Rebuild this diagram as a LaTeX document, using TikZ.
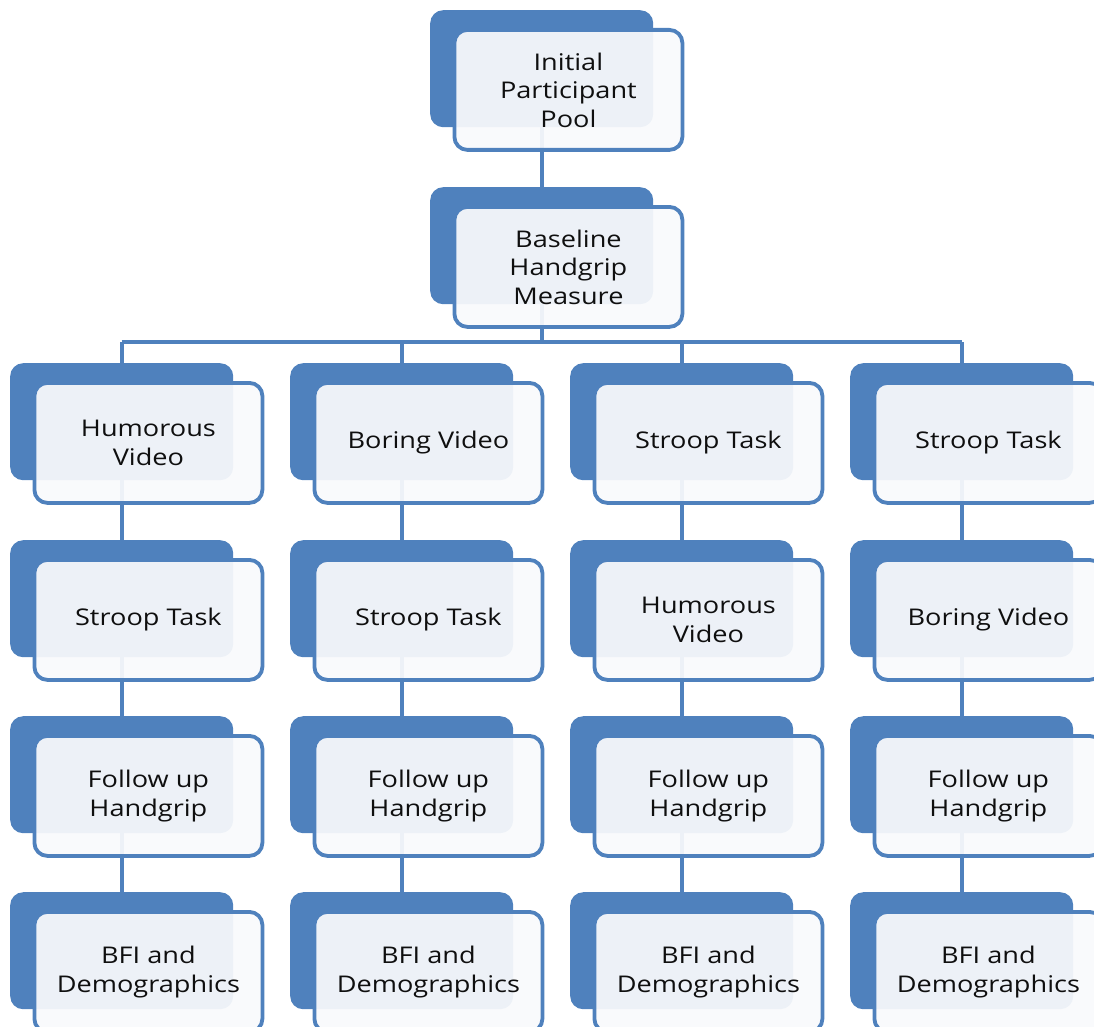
\documentclass[tikz,border=0pt]{standalone}
\usepackage{fontspec}
\setmainfont{Open Sans}[FakeStretch=1.18]
\usetikzlibrary{backgrounds}
\definecolor{sblue}{RGB}{79,129,189}
\definecolor{sfront}{RGB}{249,250,252}
\definecolor{stext}{RGB}{15,15,15}
\tikzset{
  backbox/.style={fill=sblue, draw=none, rounded corners=13pt, minimum width=223pt, minimum height=117pt, anchor=north west, inner sep=0pt},
  frontbox/.style={draw=sblue, line width=3.8pt, fill=sfront, fill opacity=0.93, text opacity=1, rounded corners=13pt, minimum width=228pt, minimum height=120pt, anchor=north west, align=center, text=stext, font=\fontsize{23pt}{28.5pt}\selectfont, inner sep=2pt},
  link/.style={draw=sblue, line width=4pt}
}
\newcommand\stagebox[4]{%
  \node[backbox] (#1B) at (#2,#3) {};
  \node[frontbox] (#1) at (#2+22.5,#3+18) {#4};
}
\begin{document}
\begin{tikzpicture}[x=1pt,y=-1pt]
\useasboundingbox (0,0) rectangle (1094,1027);
\stagebox{top}{430}{10}{Initial\\Participant\\Pool}
\stagebox{base}{430}{187}{Baseline\\Handgrip\\Measure}
% column 1
\stagebox{a1}{10}{363}{Humorous\\Video}
\stagebox{a2}{10}{540}{Stroop Task}
\stagebox{a3}{10}{716}{Follow up\\Handgrip}
\stagebox{a4}{10}{892}{BFI and\\Demographics}
% column 2
\stagebox{b1}{290}{363}{Boring Video}
\stagebox{b2}{290}{540}{Stroop Task}
\stagebox{b3}{290}{716}{Follow up\\Handgrip}
\stagebox{b4}{290}{892}{BFI and\\Demographics}
% column 3
\stagebox{c1}{570}{363}{Stroop Task}
\stagebox{c2}{570}{540}{Humorous\\Video}
\stagebox{c3}{570}{716}{Follow up\\Handgrip}
\stagebox{c4}{570}{892}{BFI and\\Demographics}
% column 4
\stagebox{d1}{850}{363}{Stroop Task}
\stagebox{d2}{850}{540}{Boring Video}
\stagebox{d3}{850}{716}{Follow up\\Handgrip}
\stagebox{d4}{850}{892}{BFI and\\Demographics}
\begin{scope}[on background layer]
  \coordinate (bar) at (0,342);
  \draw[link] (topB.south) -- (baseB.north);
  \draw[link] (baseB.south) -- (baseB.south |- bar);
  \draw[link] (a1B.north |- bar) -- (d1B.north |- bar);
  \foreach \c in {a,b,c,d}{
    \draw[link] (\c1B.north |- bar) -- (\c1B.north);
    \draw[link] (\c1B.south) -- (\c2B.north);
    \draw[link] (\c2B.south) -- (\c3B.north);
    \draw[link] (\c3B.south) -- (\c4B.north);
  }
\end{scope}
\end{tikzpicture}
\end{document}
